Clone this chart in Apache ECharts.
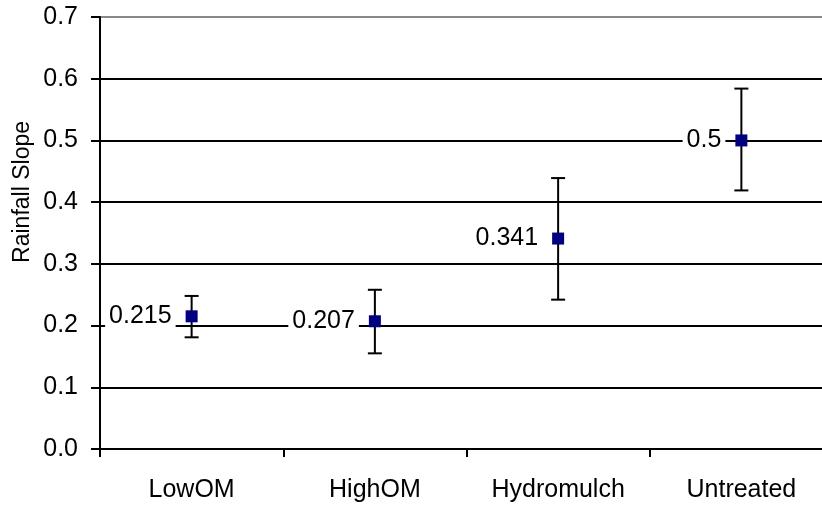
<!DOCTYPE html>
<html>
<head>
<meta charset="utf-8">
<script src="https://cdn.jsdelivr.net/npm/echarts@6/dist/echarts.min.js"></script>
<style>
  html, body { margin: 0; padding: 0; background: #fff; }
  #main { width: 822px; height: 506px; }
</style>
</head>
<body>
<div id="main"></div>
<script>
// values
const categories = ['LowOM', 'HighOM', 'Hydromulch', 'Untreated'];
const means = [0.215, 0.207, 0.341, 0.5];
const upper = [0.248, 0.258, 0.439, 0.584];
const lower = [0.181, 0.155, 0.242, 0.419];
const yTicks = [0, 0.1, 0.2, 0.3, 0.4, 0.5, 0.6, 0.7];

const FONT = 'Liberation Sans, Arial, sans-serif';

const chart = echarts.init(document.getElementById('main'));

// error bar with caps
function renderErr(params, api) {
    const hi = api.coord([api.value(0), api.value(1)]);
    const lo = api.coord([api.value(0), api.value(2)]);
    const hw = 7;
    const st = {stroke: '#000', lineWidth: 2};
    return {
        type: 'group',
        children: [
            {type: 'line', shape: {x1: hi[0], y1: hi[1], x2: lo[0], y2: lo[1]}, style: st},
            {type: 'line', shape: {x1: hi[0] - hw, y1: hi[1], x2: hi[0] + hw, y2: hi[1]}, style: st},
            {type: 'line', shape: {x1: lo[0] - hw, y1: lo[1], x2: lo[0] + hw, y2: lo[1]}, style: st}
        ]
    };
}

chart.setOption({
    animation: false,
    grid: {left: 100, width: 733, top: 17, height: 432, outerBoundsMode: 'none'},
    graphic: [{
        type: 'text',
        left: 11,
        top: 121,
        rotation: Math.PI / 2,
        style: {text: 'Rainfall Slope', font: '23px ' + FONT, fill: '#000'}
    }],
    xAxis: {
        type: 'category',
        data: categories,
        boundaryGap: true,
        axisLine: {lineStyle: {color: '#000', width: 2}},
        axisTick: {show: true, interval: 0, length: 8, lineStyle: {color: '#000', width: 2}},
        axisLabel: {interval: 0, margin: 29, color: '#000', fontSize: 25, fontFamily: FONT},
        splitLine: {show: false}
    },
    yAxis: {
        type: 'value',
        min: yTicks[0],
        max: yTicks[yTicks.length - 1],
        interval: 0.1,
        axisLine: {show: true, lineStyle: {color: '#000', width: 2}},
        axisTick: {show: true, length: 9, lineStyle: {color: '#000', width: 2}},
        axisLabel: {
            margin: 22, color: '#000', fontSize: 25, fontFamily: FONT,
            formatter: v => v.toFixed(1)
        },
        splitLine: {
            show: true,
            lineStyle: {color: ['#000', '#000', '#000', '#000', '#000', '#000', '#000', '#888'], width: 2}
        }
    },
    series: [
        {
            type: 'custom',
            renderItem: renderErr,
            data: categories.map((c, i) => [i, upper[i], lower[i]]),
            z: 3
        },
        {
            type: 'scatter',
            symbol: 'rect',
            symbolSize: 12,
            itemStyle: {color: '#000080', opacity: 1},
            data: means,
            z: 4,
            label: {
                show: true,
                position: 'left',
                distance: 10,
                color: '#000',
                opacity: 1,
                fontSize: 25,
                fontFamily: FONT,
                backgroundColor: '#fff',
                padding: [3, 4],
                formatter: p => String(p.value)
            }
        }
    ]
});
</script>
</body>
</html>
